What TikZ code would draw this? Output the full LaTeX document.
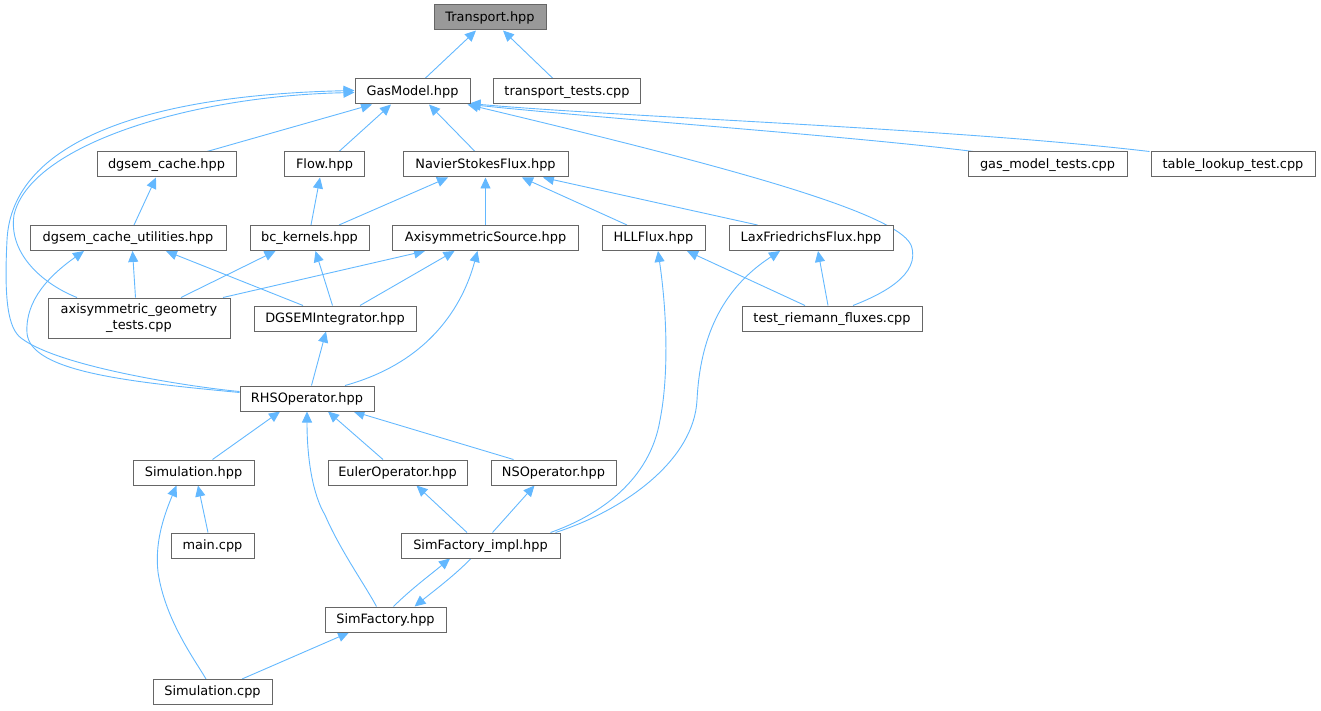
\documentclass[tikz,border=0pt]{standalone}
\usepackage{fontspec}
\setmainfont{DejaVu Sans}
\usetikzlibrary{arrows.meta}
\definecolor{edgeblue}{HTML}{63B8FF}
\definecolor{boxgray}{HTML}{666666}
\definecolor{rootfill}{HTML}{999999}
\pgfdeclarelayer{edges}
\pgfsetlayers{edges,main}
\tikzset{
  basebox/.style={draw=boxgray, fill=white, line width=1pt, minimum height=25pt, inner sep=0pt, anchor=center, text=black, font=\fontsize{12.9}{16}\selectfont},
  box/.style={basebox, text height=9.8pt, text depth=2.7pt},
  edge/.style={draw=edgeblue, line width=0.9pt, {Triangle[length=11pt,width=10pt]}-}
}
\begin{document}
\begin{tikzpicture}[x=1pt,y=-1pt]
\useasboundingbox (0,0) rectangle (1321,711);
% nodes
\node[box, minimum width=112pt, fill=rootfill] (T) at (490,17.5) {Transport.hpp};
\node[box, minimum width=115pt] (GM) at (412.5,91.5) {GasModel.hpp};
\node[box, minimum width=147pt] (TT) at (567,91.5) {transport\_tests.cpp};
\node[box, minimum width=139pt] (DC) at (166.5,164.5) {dgsem\_cache.hpp};
\node[box, minimum width=80pt] (FL) at (324.5,164.5) {Flow.hpp};
\node[box, minimum width=165pt] (NSF) at (485.5,164.5) {NavierStokesFlux.hpp};
\node[box, minimum width=159pt] (GMT) at (1047.5,164.5) {gas\_model\_tests.cpp};
\node[box, minimum width=164pt] (TLT) at (1233,164.5) {table\_lookup\_test.cpp};
\node[box, minimum width=196pt] (DCU) at (128,238) {dgsem\_cache\_utilities.hpp};
\node[box, minimum width=119pt] (BC) at (309.5,238) {bc\_kernels.hpp};
\node[box, minimum width=186pt] (AS) at (485.5,238) {AxisymmetricSource.hpp};
\node[box, minimum width=103pt] (HLL) at (653.5,238) {HLLFlux.hpp};
\node[box, minimum width=164pt] (LF) at (811,238) {LaxFriedrichsFlux.hpp};
\node[basebox, minimum width=182pt, minimum height=40pt, align=center] (AG) at (139,318) {axisymmetric\_geometry\\\_tests.cpp};
\node[box, minimum width=162pt] (DGI) at (335,318.5) {DGSEMIntegrator.hpp};
\node[box, minimum width=180pt] (TRF) at (832,318.5) {test\_riemann\_fluxes.cpp};
\node[box, minimum width=134pt] (RHS) at (307,398.5) {RHSOperator.hpp};
\node[box, minimum width=121pt] (SH) at (193.5,472.5) {Simulation.hpp};
\node[box, minimum width=139pt] (EO) at (397.5,472.5) {EulerOperator.hpp};
\node[box, minimum width=125pt] (NSO) at (553.5,472.5) {NSOperator.hpp};
\node[box, minimum width=83pt] (MC) at (212.5,545.5) {main.cpp};
\node[box, minimum width=159pt] (SFI) at (480.5,545.5) {SimFactory\_impl.hpp};
\node[box, minimum width=121pt] (SF) at (385.5,619.5) {SimFactory.hpp};
\node[box, minimum width=119pt] (SC) at (212.5,692) {Simulation.cpp};
% edges (arrow at the included file)
\begin{pgfonlayer}{edges}
\draw[edge] ([xshift=-14pt]T.south) -- ([xshift=12.5pt]GM.north);
\draw[edge] ([xshift=13pt]T.south) -- ([xshift=-14pt]TT.north);
\draw[edge] ([xshift=-40.5pt]GM.south) -- ([xshift=40.5pt]DC.north);
\draw[edge] ([xshift=-21.5pt]GM.south) -- ([xshift=14.5pt]FL.north);
\draw[edge] ([xshift=16.5pt]GM.south) -- ([xshift=-10.5pt]NSF.north);
\draw[edge] ([xshift=-1pt]GM.south east) .. controls (620,120) and (850,136) .. ([xshift=6pt]GMT.north west);
\draw[edge] ([xshift=-1pt,yshift=1pt]GM.south east) .. controls (620,117) and (950,128) .. ([xshift=-1pt]TLT.north west);
\draw[edge] ([xshift=-3pt]GM.south east) .. controls (700,160) and (895,210) .. (911,245) .. controls (922,275) and (880,295) .. ([xshift=21pt]TRF.north);
\draw[edge] ([yshift=-1pt]GM.west) .. controls (190,96) and (30,145) .. (14,215) .. controls (8,255) and (45,285) .. ([xshift=-62pt]AG.north);
\draw[edge] ([yshift=1pt]GM.west) .. controls (150,95) and (12,140) .. (7,240) .. controls (4,300) and (8,328) .. (21,338) .. controls (60,368) and (200,388) .. ([yshift=7pt]RHS.west);
\draw[edge] ([xshift=-37.5pt]NSF.south) -- ([xshift=29.5pt]BC.north);
\draw[edge] (NSF.south) -- (AS.north);
\draw[edge] ([xshift=36.5pt]NSF.south) -- ([xshift=-26.5pt]HLL.north);
\draw[edge] ([xshift=57.5pt]NSF.south) -- ([xshift=-53.5pt]LF.north);
\draw[edge] ([xshift=-4.5pt]FL.south) -- ([xshift=1.5pt]BC.north);
\draw[edge] ([xshift=-10.5pt]DC.south) -- ([xshift=6pt]DCU.north);
\draw[edge] ([xshift=4.5pt]DCU.south) -- ([xshift=-3.5pt]AG.north);
\draw[edge] ([xshift=38pt]DCU.south) -- ([xshift=-32pt]DGI.north);
\draw[edge] ([xshift=-44pt]DCU.south) .. controls (50,275) and (25,300) .. (27,333) .. controls (30,372) and (130,382) .. ([yshift=6pt]RHS.west);
\draw[edge] ([xshift=-34pt]BC.south) -- ([xshift=42pt]AG.north);
\draw[edge] ([xshift=6pt]BC.south) -- ([xshift=-2.5pt]DGI.north);
\draw[edge] ([xshift=-60.5pt]AS.south) -- ([xshift=84pt]AG.north);
\draw[edge] ([xshift=-31pt]AS.south) -- ([xshift=25pt]DGI.north);
\draw[edge] ([xshift=-8pt]AS.south) .. controls (463,305) and (430,362) .. ([xshift=38pt]RHS.north);
\draw[edge] ([xshift=33.5pt]HLL.south) -- ([xshift=-27pt]TRF.north);
\draw[edge] ([xshift=4.5pt]HLL.south) .. controls (668,320) and (668,380) .. (660,420) .. controls (650,480) and (600,515) .. ([xshift=70pt]SFI.north);
\draw[edge] ([xshift=7pt]LF.south) -- ([xshift=-4pt]TRF.north);
\draw[edge] ([xshift=-31pt]LF.south) .. controls (720,290) and (700,340) .. (697,400) .. controls (694,460) and (625,510) .. ([xshift=75pt]SFI.north);
\draw[edge] ([xshift=-9pt]DGI.south) -- ([xshift=4.5pt]RHS.north);
\draw[edge] ([xshift=-27pt]RHS.south) -- ([xshift=19pt]SH.north);
\draw[edge] (RHS.south) .. controls (307,460) and (313,495) .. (325,515) .. controls (340,550) and (365,585) .. ([xshift=-9pt]SF.north);
\draw[edge] ([xshift=21pt]RHS.south) -- ([xshift=-14.5pt]EO.north);
\draw[edge] ([xshift=46.5pt]RHS.south) -- ([xshift=-40pt]NSO.north);
\draw[edge] ([xshift=4.5pt]SH.south) -- ([xshift=-4.5pt]MC.north);
\draw[edge] ([xshift=-17pt]SH.south) .. controls (162,520) and (155,545) .. (158,572) .. controls (165,620) and (195,660) .. ([xshift=-6.5pt]SC.north);
\draw[edge] ([xshift=19pt]EO.south) -- ([xshift=-13.5pt]SFI.north);
\draw[edge] ([xshift=-19pt]NSO.south) -- ([xshift=12pt]SFI.north);
\draw[edge] ([xshift=-30.5pt]SFI.south) .. controls (430,575) and (410,590) .. ([xshift=8pt]SF.north);
\draw[edge] ([xshift=29pt]SF.north) .. controls (435,590) and (455,575) .. ([xshift=-9.5pt]SFI.south);
\draw[edge] ([xshift=-36.5pt]SF.south) -- ([xshift=29.5pt]SC.north);
\end{pgfonlayer}
\end{tikzpicture}
\end{document}
